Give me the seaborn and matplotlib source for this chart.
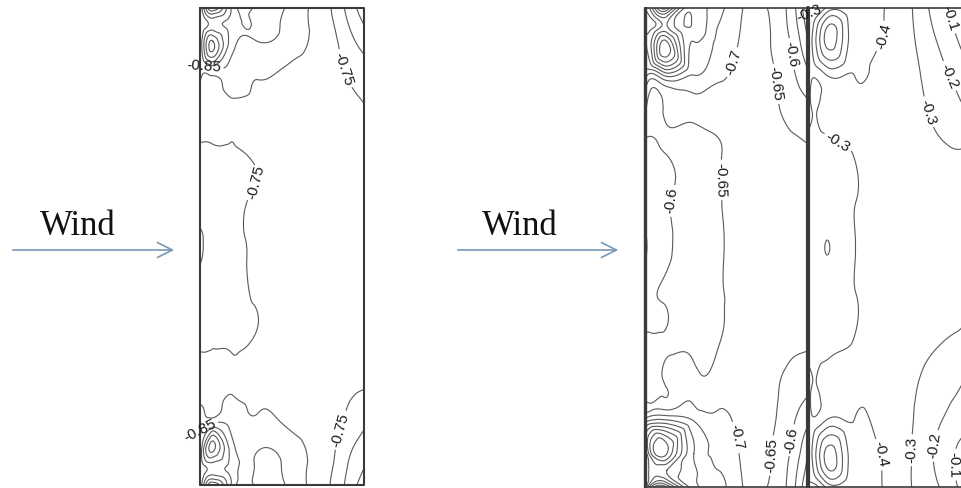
import numpy as np
import matplotlib
matplotlib.use("Agg")
import matplotlib.pyplot as plt
import matplotlib.tri as mtri
import seaborn as sns

# pressure coefficient fields, rows top -> bottom, columns windward -> leeward
# positions are fractions of building width (u) and length (v)
single_u = [0, 0.08, 0.2, 0.35, 0.55, 0.75, 0.88, 1.0]
single_v = [0, 0.035, 0.07, 0.13, 0.2, 0.3, 0.42, 0.5, 0.58, 0.7, 0.8, 0.87, 0.93, 0.965, 1.0]
single_cp = [
    [-0.86, -1.10, -0.88, -0.86, -0.84, -0.77, -0.70, -0.62],
    [-0.86, -0.92, -0.87, -0.855, -0.835, -0.775, -0.715, -0.65],
    [-0.86, -1.05, -0.87, -0.85, -0.83, -0.78, -0.73, -0.68],
    [-0.84, -0.85, -0.83, -0.81, -0.79, -0.775, -0.75, -0.72],
    [-0.78, -0.785, -0.79, -0.79, -0.78, -0.77, -0.765, -0.75],
    [-0.74, -0.74, -0.745, -0.755, -0.765, -0.77, -0.77, -0.77],
    [-0.73, -0.73, -0.74, -0.755, -0.765, -0.77, -0.77, -0.77],
    [-0.76, -0.735, -0.74, -0.755, -0.765, -0.77, -0.77, -0.77],
    [-0.73, -0.73, -0.74, -0.755, -0.765, -0.77, -0.77, -0.77],
    [-0.74, -0.74, -0.745, -0.755, -0.765, -0.77, -0.77, -0.765],
    [-0.78, -0.785, -0.79, -0.79, -0.78, -0.77, -0.76, -0.75],
    [-0.84, -0.85, -0.83, -0.81, -0.79, -0.77, -0.745, -0.71],
    [-0.86, -1.05, -0.87, -0.85, -0.83, -0.775, -0.72, -0.67],
    [-0.86, -0.92, -0.87, -0.855, -0.835, -0.77, -0.71, -0.65],
    [-0.86, -1.10, -0.88, -0.86, -0.84, -0.765, -0.70, -0.62],
]

front_u = [0, 0.135, 0.3, 0.45, 0.6, 0.75, 0.88, 1.0]
front_v = [0, 0.035, 0.07, 0.14, 0.22, 0.3, 0.4, 0.5, 0.6, 0.7, 0.78, 0.86, 0.93, 0.965, 1.0]
front_cp = [
    [-0.85, -1.10, -0.82, -0.76, -0.70, -0.65, -0.59, -0.45],
    [-0.85, -0.90, -0.81, -0.75, -0.695, -0.655, -0.595, -0.48],
    [-0.85, -1.05, -0.80, -0.74, -0.69, -0.655, -0.605, -0.50],
    [-0.78, -0.82, -0.75, -0.71, -0.68, -0.66, -0.62, -0.56],
    [-0.655, -0.66, -0.665, -0.665, -0.67, -0.665, -0.64, -0.62],
    [-0.58, -0.605, -0.63, -0.648, -0.66, -0.67, -0.665, -0.655],
    [-0.57, -0.595, -0.63, -0.648, -0.66, -0.67, -0.67, -0.67],
    [-0.54, -0.59, -0.625, -0.645, -0.66, -0.67, -0.67, -0.67],
    [-0.58, -0.605, -0.625, -0.645, -0.655, -0.67, -0.67, -0.67],
    [-0.605, -0.62, -0.635, -0.648, -0.66, -0.665, -0.66, -0.655],
    [-0.655, -0.66, -0.67, -0.67, -0.67, -0.66, -0.64, -0.62],
    [-0.77, -0.80, -0.745, -0.71, -0.68, -0.66, -0.62, -0.56],
    [-0.85, -1.05, -0.80, -0.74, -0.69, -0.655, -0.605, -0.50],
    [-0.85, -0.90, -0.81, -0.75, -0.695, -0.655, -0.595, -0.48],
    [-0.85, -1.10, -0.82, -0.76, -0.70, -0.65, -0.59, -0.45],
]

rear_u = [0, 0.14, 0.3, 0.45, 0.6, 0.75, 0.88, 1.0]
rear_v = [0, 0.07, 0.14, 0.22, 0.3, 0.4, 0.5, 0.6, 0.7, 0.78, 0.86, 0.93, 1.0]
rear_cp = [
    [-0.27, -0.45, -0.43, -0.42, -0.36, -0.23, -0.12, -0.02],
    [-0.32, -0.75, -0.45, -0.41, -0.36, -0.26, -0.17, -0.08],
    [-0.34, -0.42, -0.40, -0.37, -0.35, -0.29, -0.22, -0.15],
    [-0.32, -0.34, -0.35, -0.35, -0.34, -0.31, -0.27, -0.22],
    [-0.26, -0.27, -0.305, -0.33, -0.34, -0.33, -0.31, -0.305],
    [-0.25, -0.25, -0.297, -0.33, -0.34, -0.34, -0.34, -0.34],
    [-0.25, -0.1995, -0.297, -0.33, -0.34, -0.34, -0.34, -0.34],
    [-0.25, -0.25, -0.297, -0.33, -0.34, -0.34, -0.33, -0.32],
    [-0.26, -0.27, -0.305, -0.33, -0.34, -0.32, -0.298, -0.28],
    [-0.32, -0.34, -0.35, -0.35, -0.33, -0.29, -0.25, -0.205],
    [-0.34, -0.42, -0.40, -0.37, -0.33, -0.27, -0.195, -0.14],
    [-0.32, -0.75, -0.45, -0.41, -0.34, -0.25, -0.15, -0.07],
    [-0.27, -0.45, -0.43, -0.42, -0.34, -0.26, -0.18, -0.08],
]

single_levels = np.round(np.arange(-1.30, -0.55, 0.05), 2)
front_levels = np.round(np.arange(-1.30, -0.40, 0.05), 2)
rear_levels = np.round(np.arange(-1.0, 0.0, 0.1), 2)

LINE = "#5a5a5a"
EDGE = "#3a3a3a"
ARROW = "#7a97b5"


def draw_field(ax, u, v, cp, box, levels, labels):
    x0, y0, w, h = box
    uu, vv = np.meshgrid(np.array(u) * w + x0, np.array(v) * h + y0)
    z = np.array(cp).ravel()
    tri = mtri.Triangulation(uu.ravel(), vv.ravel())
    interp = mtri.CubicTriInterpolator(tri, z, kind="min_E")
    tri_r, z_r = mtri.UniformTriRefiner(tri).refine_field(z, triinterpolator=interp, subdiv=4)

    style = dict(colors=LINE, linewidths=0.8, linestyles="solid")
    plain = [lev for lev in levels if not any(np.isclose(lev, k) for k in labels)]
    ax.tricontour(tri_r, z_r, levels=plain, **style)
    # labelled levels drawn one by one so each gets its own inline labels
    for lev, spots in labels.items():
        cs = ax.tricontour(tri_r, z_r, levels=[lev], **style)
        ax.clabel(cs, manual=spots, fmt="%g", fontsize=11, colors="#1a1a1a",
                  inline=True, inline_spacing=3)


def main():
    sns.set_theme(style="white")
    plt.rcParams["font.family"] = ["Liberation Sans", "DejaVu Sans"]

    fig = plt.figure(figsize=(9.62, 4.88), dpi=100)
    ax = fig.add_axes([0, 0, 1, 1])
    ax.set_xlim(0, 962)
    ax.set_ylim(488, 0)
    ax.axis("off")

    draw_field(ax, single_u, single_v, single_cp, (200, 8, 164, 477), single_levels,
               {-0.75: [(340, 70), (250, 175), (340, 430)],
                -0.85: [(207, 55), (207, 440)]})
    draw_field(ax, front_u, front_v, front_cp, (645, 8, 163, 479), front_levels,
               {-0.7: [(735, 63), (720, 440)],
                -0.65: [(766, 85), (718, 180), (763, 455)],
                -0.6: [(785, 55), (667, 200), (790, 440)]})
    draw_field(ax, rear_u, rear_v, rear_cp, (808, 8, 154, 479), rear_levels,
               {-0.4: [(877, 35), (878, 455)],
                -0.3: [(814, 30), (832, 155), (905, 450), (928, 112)],
                -0.2: [(930, 445), (940, 80)],
                -0.1: [(946, 465), (944, 20)]})

    # building outlines
    ax.plot([200, 364, 364, 200, 200], [8, 8, 485, 485, 8], color=EDGE, lw=1.5)
    ax.plot([645, 962], [8, 8], color=EDGE, lw=1.2)
    ax.plot([645, 962], [487, 487], color=EDGE, lw=1.2)
    ax.plot([645, 645], [8, 487], color=EDGE, lw=2.4)
    ax.plot([808, 808], [8, 487], color=EDGE, lw=3)

    # wind arrows
    for x_start, x_end, x_text in [(10, 177, 78), (455, 621, 520)]:
        ax.annotate("", xy=(x_end, 250), xytext=(x_start, 250),
                    arrowprops=dict(arrowstyle="->,head_length=0.9,head_width=0.45",
                                    color=ARROW, lw=1.2))
        ax.text(x_text, 235, "Wind", ha="center", va="baseline", fontsize=25,
                family=["Liberation Serif", "DejaVu Serif"], color="#111111")

    fig.savefig("out.png", dpi=100, facecolor="white")


if __name__ == "__main__":
    main()
